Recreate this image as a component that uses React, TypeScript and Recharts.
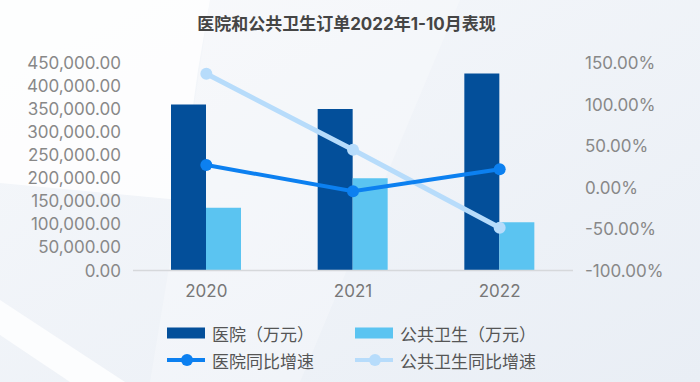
import {
  ComposedChart,
  Bar,
  Line,
  XAxis,
  YAxis,
  Legend,
} from "recharts";

const years = ["2020", "2021", "2022"];
const hospitalOrders = [360000, 350000, 427000];
const publicHealthOrders = [136000, 200000, 104500];
const hospitalGrowth = [27, -4.5, 22];
const publicHealthGrowth = [137, 45.5, -48.5];

const leftTicks = [0, 50000, 100000, 150000, 200000, 250000, 300000, 350000, 400000, 450000];
const rightTicks = [-100, -50, 0, 50, 100, 150];

const chartData = years.map((year, i) => ({
  year,
  hospital: hospitalOrders[i],
  publicHealth: publicHealthOrders[i],
  hospitalGrowth: hospitalGrowth[i],
  publicHealthGrowth: publicHealthGrowth[i],
}));

const FONT = "Inter, 'Noto Sans CJK SC', sans-serif";
const DARK_BAR = "#034f9a";
const LIGHT_BAR = "#5bc4f1";
const DARK_LINE = "#0c80f0";
const LIGHT_LINE = "#b7dcfb";

function money(v: number) {
  return v.toLocaleString("en-US", { minimumFractionDigits: 2, maximumFractionDigits: 2 });
}

function percent(v: number) {
  return `${v.toFixed(2)}%`;
}

const legendItems = [
  { label: "医院（万元）", color: DARK_BAR, kind: "bar" },
  { label: "公共卫生（万元）", color: LIGHT_BAR, kind: "bar" },
  { label: "医院同比增速", color: DARK_LINE, kind: "line" },
  { label: "公共卫生同比增速", color: LIGHT_LINE, kind: "line" },
];

function LegendBox() {
  return (
    <div
      style={{
        display: "grid",
        gridTemplateColumns: "188px 200px",
        rowGap: 5,
        fontFamily: FONT,
        fontSize: 17,
        color: "#555",
      }}
    >
      {legendItems.map((item) => (
        <div key={item.label} style={{ display: "flex", alignItems: "center", height: 22 }}>
          <svg width={38} height={14} style={{ marginRight: 7 }}>
            {item.kind === "bar" ? (
              <rect x={0} y={1.5} width={38} height={11} fill={item.color} />
            ) : (
              <>
                <line x1={0} y1={7} x2={38} y2={7} stroke={item.color} strokeWidth={4} />
                <circle cx={20} cy={7} r={6} fill={item.color} />
              </>
            )}
          </svg>
          <span>{item.label}</span>
        </div>
      ))}
    </div>
  );
}

export default function App() {
  return (
    <div
      style={{
        position: "relative",
        width: 700,
        height: 382,
        overflow: "hidden",
        background: "#eef2f7",
      }}
    >
      <style>{`body{margin:0}`}</style>
      <svg width={700} height={382} style={{ position: "absolute", left: 0, top: 0 }}>
        <defs>
          <linearGradient id="bg" x1="0" y1="0" x2="1" y2="1">
            <stop offset="0" stopColor="#f6f8fb" />
            <stop offset="1" stopColor="#e9eef5" />
          </linearGradient>
        </defs>
        <rect width={700} height={382} fill="url(#bg)" />
        <polygon points="0,0 210,0 198,70 180,200 0,183" fill="#ffffff" opacity={0.8} />
        <polygon points="210,0 460,0 300,382 150,382 180,200" fill="#ffffff" opacity={0.25} />
        <polygon points="0,300 0,335 70,382 125,382" fill="#ffffff" opacity={0.8} />
      </svg>
      <div
        style={{
          position: "absolute",
          top: 12,
          left: 0,
          width: 693,
          textAlign: "center",
          lineHeight: "24px",
          fontFamily: FONT,
          fontSize: 17,
          fontWeight: "bold",
          color: "#454545",
        }}
      >
        医院和公共卫生订单2022年1-10月表现
      </div>
      <div style={{ position: "absolute", left: 0, top: 0 }}>
        <ComposedChart
          width={700}
          height={382}
          data={chartData}
          margin={{ top: 63, right: 10, left: 10, bottom: 33.5 }}
          barGap={0}
        >
          <XAxis
            dataKey="year"
            height={30}
            axisLine={{ stroke: "#d6d8db", strokeWidth: 1.5 }}
            tickLine={false}
            tickSize={0}
            tickMargin={14}
            tick={{ fill: "#777", fontSize: 17, fontFamily: FONT }}
          />
          <YAxis
            yAxisId="left"
            width={123}
            domain={[0, 450000]}
            ticks={leftTicks}
            tickFormatter={money}
            axisLine={false}
            tickLine={false}
            tickSize={0}
            tickMargin={12}
            interval={0}
            tick={{ fill: "#888", fontSize: 17, fontFamily: FONT }}
          />
          <YAxis
            yAxisId="right"
            orientation="right"
            width={117}
            domain={[-100, 150]}
            ticks={rightTicks}
            tickFormatter={percent}
            axisLine={false}
            tickLine={false}
            tickSize={0}
            tickMargin={12}
            interval={0}
            tick={{ fill: "#888", fontSize: 17, fontFamily: FONT }}
          />
          <Legend
            verticalAlign="bottom"
            content={() => <LegendBox />}
            wrapperStyle={{ top: 322, left: 167, bottom: "auto", width: 420, height: 48 }}
          />
          <Bar
            yAxisId="left"
            dataKey="hospital"
            name="医院（万元）"
            fill={DARK_BAR}
            barSize={35}
            isAnimationActive={false}
          />
          <Bar
            yAxisId="left"
            dataKey="publicHealth"
            name="公共卫生（万元）"
            fill={LIGHT_BAR}
            barSize={35}
            isAnimationActive={false}
          />
          <Line
            yAxisId="right"
            type="linear"
            dataKey="publicHealthGrowth"
            name="公共卫生同比增速"
            stroke={LIGHT_LINE}
            strokeWidth={5}
            dot={{ r: 6, fill: LIGHT_LINE, stroke: "none" }}
            activeDot={false}
            isAnimationActive={false}
          />
          <Line
            yAxisId="right"
            type="linear"
            dataKey="hospitalGrowth"
            name="医院同比增速"
            stroke={DARK_LINE}
            strokeWidth={4}
            dot={{ r: 6, fill: DARK_LINE, stroke: "none" }}
            activeDot={false}
            isAnimationActive={false}
          />
        </ComposedChart>
      </div>
    </div>
  );
}
